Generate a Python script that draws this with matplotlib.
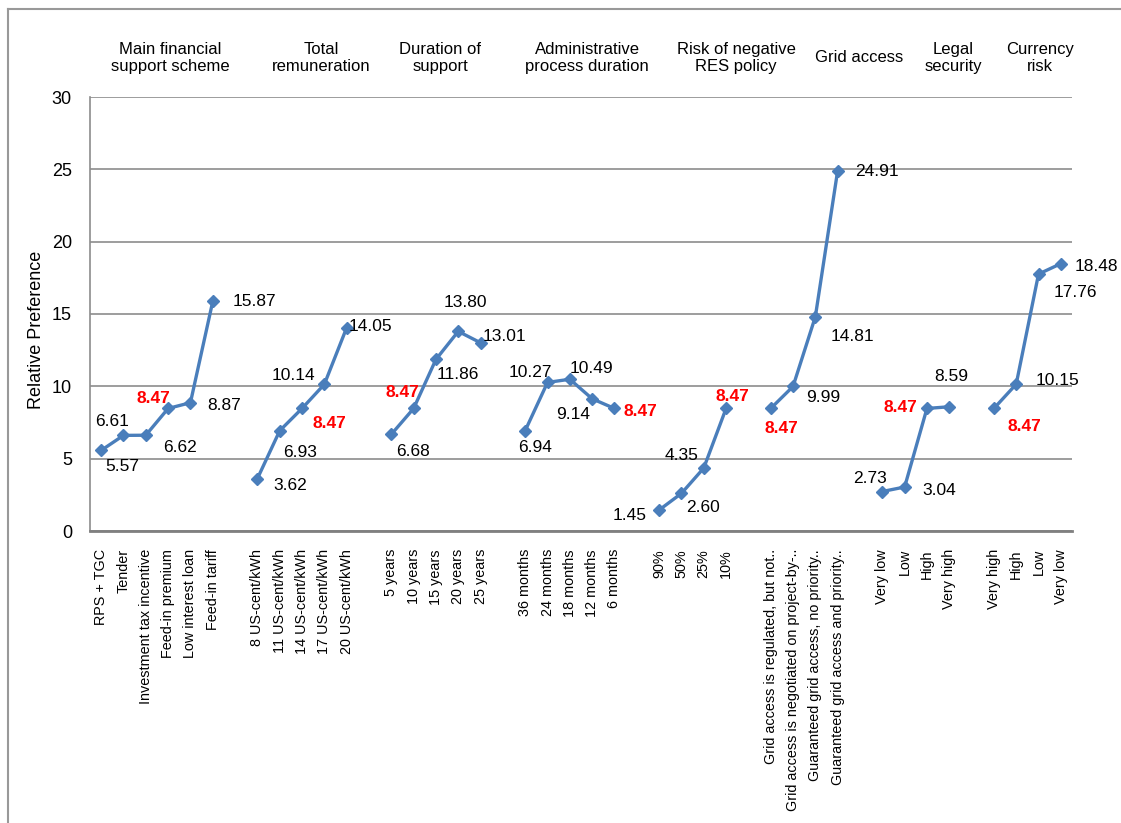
import matplotlib
matplotlib.use("Agg")
import matplotlib.pyplot as plt
import numpy as np

plt.rcParams['font.family'] = ['Liberation Sans', 'DejaVu Sans']

# ---- data ----
group_titles = ["Main financial\nsupport scheme", "Total\nremuneration", "Duration of\nsupport",
                "Administrative\nprocess duration", "Risk of negative\nRES policy", "Grid access",
                "Legal\nsecurity", "Currency\nrisk"]

cats_scheme = ["RPS + TGC", "Tender", "Investment tax incentive", "Feed-in premium",
               "Low interest loan", "Feed-in tariff"]
vals_scheme = [5.57, 6.61, 6.62, 8.47, 8.87, 15.87]

cats_remun = ["8 US-cent/kWh", "11 US-cent/kWh", "14 US-cent/kWh", "17 US-cent/kWh", "20 US-cent/kWh"]
vals_remun = [3.62, 6.93, 8.47, 10.14, 14.05]

cats_duration = ["5 years", "10 years", "15 years", "20 years", "25 years"]
vals_duration = [6.68, 8.47, 11.86, 13.80, 13.01]

cats_admin = ["36 months", "24 months", "18 months", "12 months", "6 months"]
vals_admin = [6.94, 10.27, 10.49, 9.14, 8.47]

cats_risk = ["90%", "50%", "25%", "10%"]
vals_risk = [1.45, 2.60, 4.35, 8.47]

cats_grid = ["Grid access is regulated, but not..", "Grid access is negotiated on project-by-..",
             "Guaranteed grid access, no priority..", "Guaranteed grid access and priority.."]
vals_grid = [8.47, 9.99, 14.81, 24.91]

cats_legal = ["Very low", "Low", "High", "Very high"]
vals_legal = [2.73, 3.04, 8.47, 8.59]

cats_currency = ["Very high", "High", "Low", "Very low"]
vals_currency = [8.47, 10.15, 17.76, 18.48]

reference_value = 8.47  # labels equal to the reference level are shown in red bold

groups = [(cats_scheme, vals_scheme), (cats_remun, vals_remun), (cats_duration, vals_duration),
          (cats_admin, vals_admin), (cats_risk, vals_risk), (cats_grid, vals_grid),
          (cats_legal, vals_legal), (cats_currency, vals_currency)]

# label offsets (pixels, dx, dy-up) per point
label_offsets = [
    [(21, -16), (-11, 14), (34, -12), (-15, 10), (34, -3), (42, 0)],
    [(33, -7), (20, -22), (27, -15), (-31, 9), (24, 1)],
    [(22, -17), (-11, 16), (22, -15), (7, 29), (24, 6)],
    [(10, -17), (-17, 10), (22, 11), (-19, -16), (26, -3)],
    [(-29, -5), (22, -14), (-22, 13), (6, 12)],
    [(11, -20), (30, -11), (37, -20), (39, -1)],
    [(-12, 13), (35, -3), (-27, 1), (2, 30)],
    [(30, -18), (41, 4), (37, -18), (36, -3)],
]
header_x = [170, 321, 440, 587, 736, 859, 953, 1040]

W, H = 1121, 823
fig = plt.figure(figsize=(W / 100, H / 100), dpi=100)
ax = fig.add_axes([90 / W, 1 - 531 / H, (1072 - 90) / W, (531 - 97) / H])

line_color = "#4A7EBB"
grid_color = "#8C8C8C"

xticks, xlabels = [], []
pos = 0
for gi, (cats, vals) in enumerate(groups):
    xs = np.arange(pos, pos + len(cats))
    ax.plot(xs, vals, color=line_color, lw=2.4, marker='D', markersize=6.5,
            markerfacecolor=line_color, markeredgecolor=line_color, zorder=3)
    for x, v, off in zip(xs, vals, label_offsets[gi]):
        red = abs(v - reference_value) < 1e-9
        ax.annotate(f"{v:.2f}", (x, v), xytext=off, textcoords='offset pixels',
                    ha='center', va='center', fontsize=12.5,
                    color='#FF0000' if red else 'black',
                    fontweight='bold' if red else 'normal', zorder=4,
                    annotation_clip=False)
    xticks.extend(xs)
    xlabels.extend(cats)
    pos += len(cats) + 1

ax.set_xlim(-0.5, pos - 1.5)
ax.set_ylim(0, 30)
ax.set_yticks(np.arange(0, 31, 5))
ax.tick_params(axis='y', length=0, pad=13, labelsize=13)
ax.set_xticks(xticks)
ax.set_xticklabels(xlabels, rotation=90, fontsize=10.4, va='top', ha='center')
ax.tick_params(axis='x', length=0, pad=13)

ax.grid(axis='y', color=grid_color, lw=1.2)
ax.set_axisbelow(True)
for s in ['top', 'right']:
    ax.spines[s].set_visible(False)
ax.spines['left'].set_color(grid_color)
ax.spines['left'].set_linewidth(1.2)
ax.spines['bottom'].set_color('#808080')
ax.spines['bottom'].set_linewidth(2)

fig.text(37 / W, 1 - 330 / H, "Relative Preference", rotation=90, ha='center', va='center', fontsize=13)

for hx, title in zip(header_x, group_titles):
    fig.text(hx / W, 1 - 58 / H, title, ha='center', va='center', fontsize=12, linespacing=1.1)

# outer frame
fig.add_artist(plt.Line2D([8 / W, 1.01], [1 - 9 / H, 1 - 9 / H], color='#999999', lw=1.5, transform=fig.transFigure))
fig.add_artist(plt.Line2D([8 / W, 8 / W], [1 - 9 / H, -0.01], color='#999999', lw=1.5, transform=fig.transFigure))

fig.savefig("out.png", dpi=100)
